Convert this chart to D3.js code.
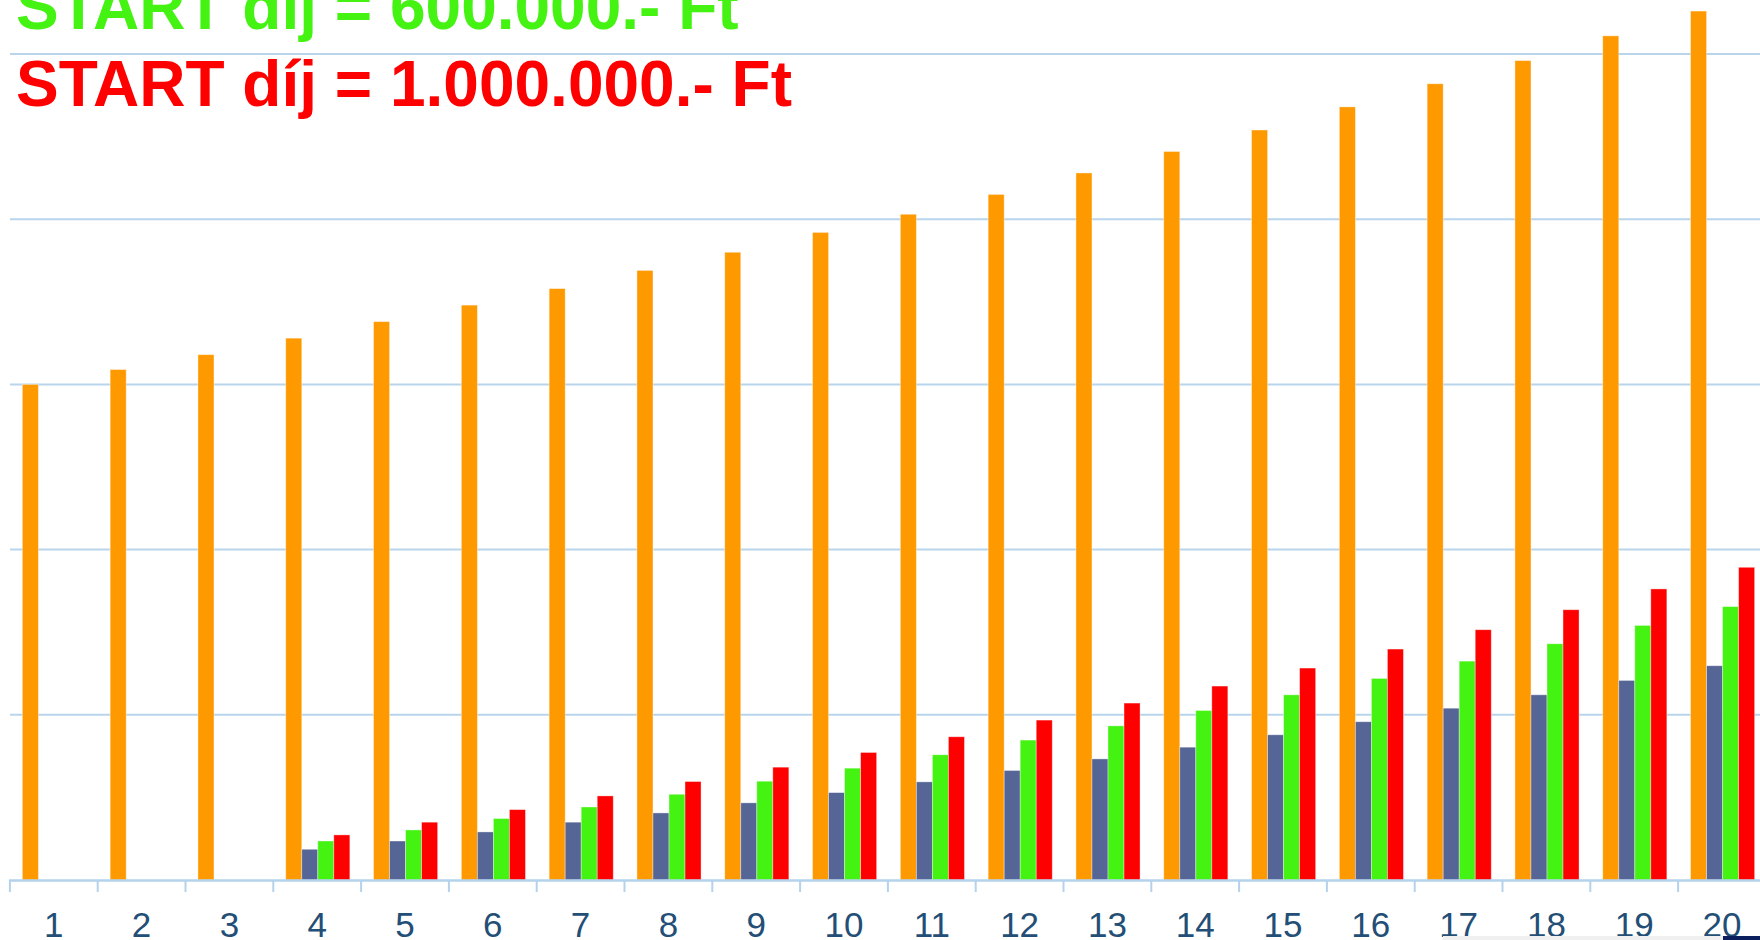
<!DOCTYPE html>
<html>
<head>
<meta charset="utf-8">
<script src="https://cdn.jsdelivr.net/npm/d3@7"></script>
<style>
  html, body { margin: 0; padding: 0; background: #fff; overflow: hidden; }
  #chart { position: relative; width: 1760px; height: 940px; }
</style>
</head>
<body>
<div id="chart"></div>
<script>
/* CONSTANTS AND GLOBALS */
const width = 1760,
  height = 940,
  margin = { top: 0, bottom: 60, left: 10.5, right: 0 };

// evek (x kategoriak)
const years = ["1","2","3","4","5","6","7","8","9","10",
               "11","12","13","14","15","16","17","18","19","20"];

// sorozatok, ertekek a kepről leolvasva (racsvonal = 1 egyseg)
const seriesKeys = ["orange", "blue", "green", "red"];
const orangeValues = [3.00, 3.09, 3.18, 3.28, 3.38, 3.48, 3.58, 3.69, 3.80, 3.92,
                      4.03, 4.15, 4.28, 4.41, 4.54, 4.68, 4.82, 4.96, 5.11, 5.26];
const blueValues   = [0, 0, 0, 0.186, 0.236, 0.291, 0.350, 0.406, 0.467, 0.529,
                      0.594, 0.663, 0.733, 0.804, 0.879, 0.958, 1.040, 1.121, 1.208, 1.297];
const greenValues  = [0, 0, 0, 0.236, 0.303, 0.372, 0.442, 0.519, 0.598, 0.677,
                      0.758, 0.847, 0.933, 1.026, 1.121, 1.220, 1.325, 1.430, 1.541, 1.655];
const redValues    = [0, 0, 0, 0.273, 0.350, 0.426, 0.509, 0.596, 0.683, 0.772,
                      0.867, 0.968, 1.071, 1.174, 1.283, 1.398, 1.515, 1.636, 1.762, 1.893];

const gridTicks = [1, 2, 3, 4, 5];

const titleLines = ["START díj = 600.000.- Ft", "START díj = 1.000.000.- Ft"];

const colors = {
  orange: "#ff9900",
  blue: "#556596",
  green: "#44f312",
  red: "#ff0000"
};

let svg;

/* DATA TABLE */
const table = years.map((y, i) => ({
  year: y,
  orange: orangeValues[i],
  blue: blueValues[i],
  green: greenValues[i],
  red: redValues[i]
}));

init();

function init() {
  svg = d3.select("#chart").append("svg")
    .attr("width", width)
    .attr("height", height)
    .style("display", "block");

  const step = 87.8;
  const xScale = d3.scaleBand()
    .domain(years)
    .range([margin.left, margin.left + step * years.length])
    .paddingInner(0.27)
    .paddingOuter(0.135);

  // tengely a kategoriak hatarain
  const xAxisScale = d3.scaleBand()
    .domain(years)
    .range([margin.left - 0.6, margin.left - 0.6 + step * years.length]);

  const xInner = d3.scaleBand()
    .domain(seriesKeys)
    .range([0, xScale.bandwidth()]);

  const yScale = d3.scaleLinear()
    .domain([0, 5.327])
    .range([880, 0]);

  /* GRIDLINES */
  svg.append("g")
    .selectAll("line")
    .data(gridTicks)
    .join("line")
    .attr("x1", 10)
    .attr("x2", width)
    .attr("y1", d => yScale(d))
    .attr("y2", d => yScale(d))
    .attr("stroke", "#b9d5ec")
    .attr("stroke-width", 2);

  /* BARS */
  const groups = svg.append("g")
    .selectAll("g")
    .data(table)
    .join("g")
    .attr("transform", d => `translate(${xScale(d.year)},0)`);

  groups.selectAll("rect")
    .data(d => seriesKeys.map(k => ({ key: k, value: d[k] })).filter(d => d.value > 0))
    .join("rect")
    .attr("x", d => xInner(d.key))
    .attr("width", xInner.bandwidth())
    .attr("y", d => yScale(d.value))
    .attr("height", d => yScale(0) - yScale(d.value))
    .attr("fill", d => colors[d.key])
    .attr("stroke", "rgba(255,255,255,0.45)")
    .attr("stroke-width", 0.8);

  /* X AXIS */
  const xAxis = d3.axisBottom(xAxisScale)
    .tickSize(0)
    .tickPadding(0);

  const axisG = svg.append("g")
    .attr("transform", `translate(0, ${yScale(0)})`)
    .call(xAxis);

  axisG.select(".domain").remove();
  axisG.selectAll(".tick line").remove();

  axisG.append("line")
    .attr("x1", 9)
    .attr("x2", width)
    .attr("y1", 0.5)
    .attr("y2", 0.5)
    .attr("stroke", "#b4d2eb")
    .attr("stroke-width", 2.5);

  // kategoria hatar jelek
  axisG.append("g")
    .selectAll("line")
    .data(years)
    .join("line")
    .attr("x1", d => xAxisScale(d))
    .attr("x2", d => xAxisScale(d))
    .attr("y1", 0)
    .attr("y2", 12)
    .attr("stroke", "#b4d2eb")
    .attr("stroke-width", 2);

  axisG.selectAll(".tick text")
    .attr("y", 57)
    .attr("dy", 0)
    .attr("fill", "#234e75")
    .style("font-family", "'Liberation Sans', Arial, sans-serif")
    .style("font-size", "35px");

  /* FOOTER BITS */
  svg.append("rect")
    .attr("x", 1443).attr("y", 936)
    .attr("width", 280).attr("height", 4)
    .attr("fill", "#f0f0f0");
  svg.append("rect")
    .attr("x", 1723).attr("y", 936)
    .attr("width", 37).attr("height", 4)
    .attr("fill", "#0b1f5e");

  /* TITLES */
  svg.append("g")
    .selectAll("text")
    .data(titleLines)
    .join("text")
    .attr("x", 16)
    .attr("y", (d, i) => i === 0 ? 29 : 106)
    .attr("fill", (d, i) => i === 0 ? colors.green : colors.red)
    .style("font-family", "'Liberation Sans', Arial, sans-serif")
    .style("font-weight", "bold")
    .style("font-size", "64px")
    .text(d => d);
}
</script>
</body>
</html>
